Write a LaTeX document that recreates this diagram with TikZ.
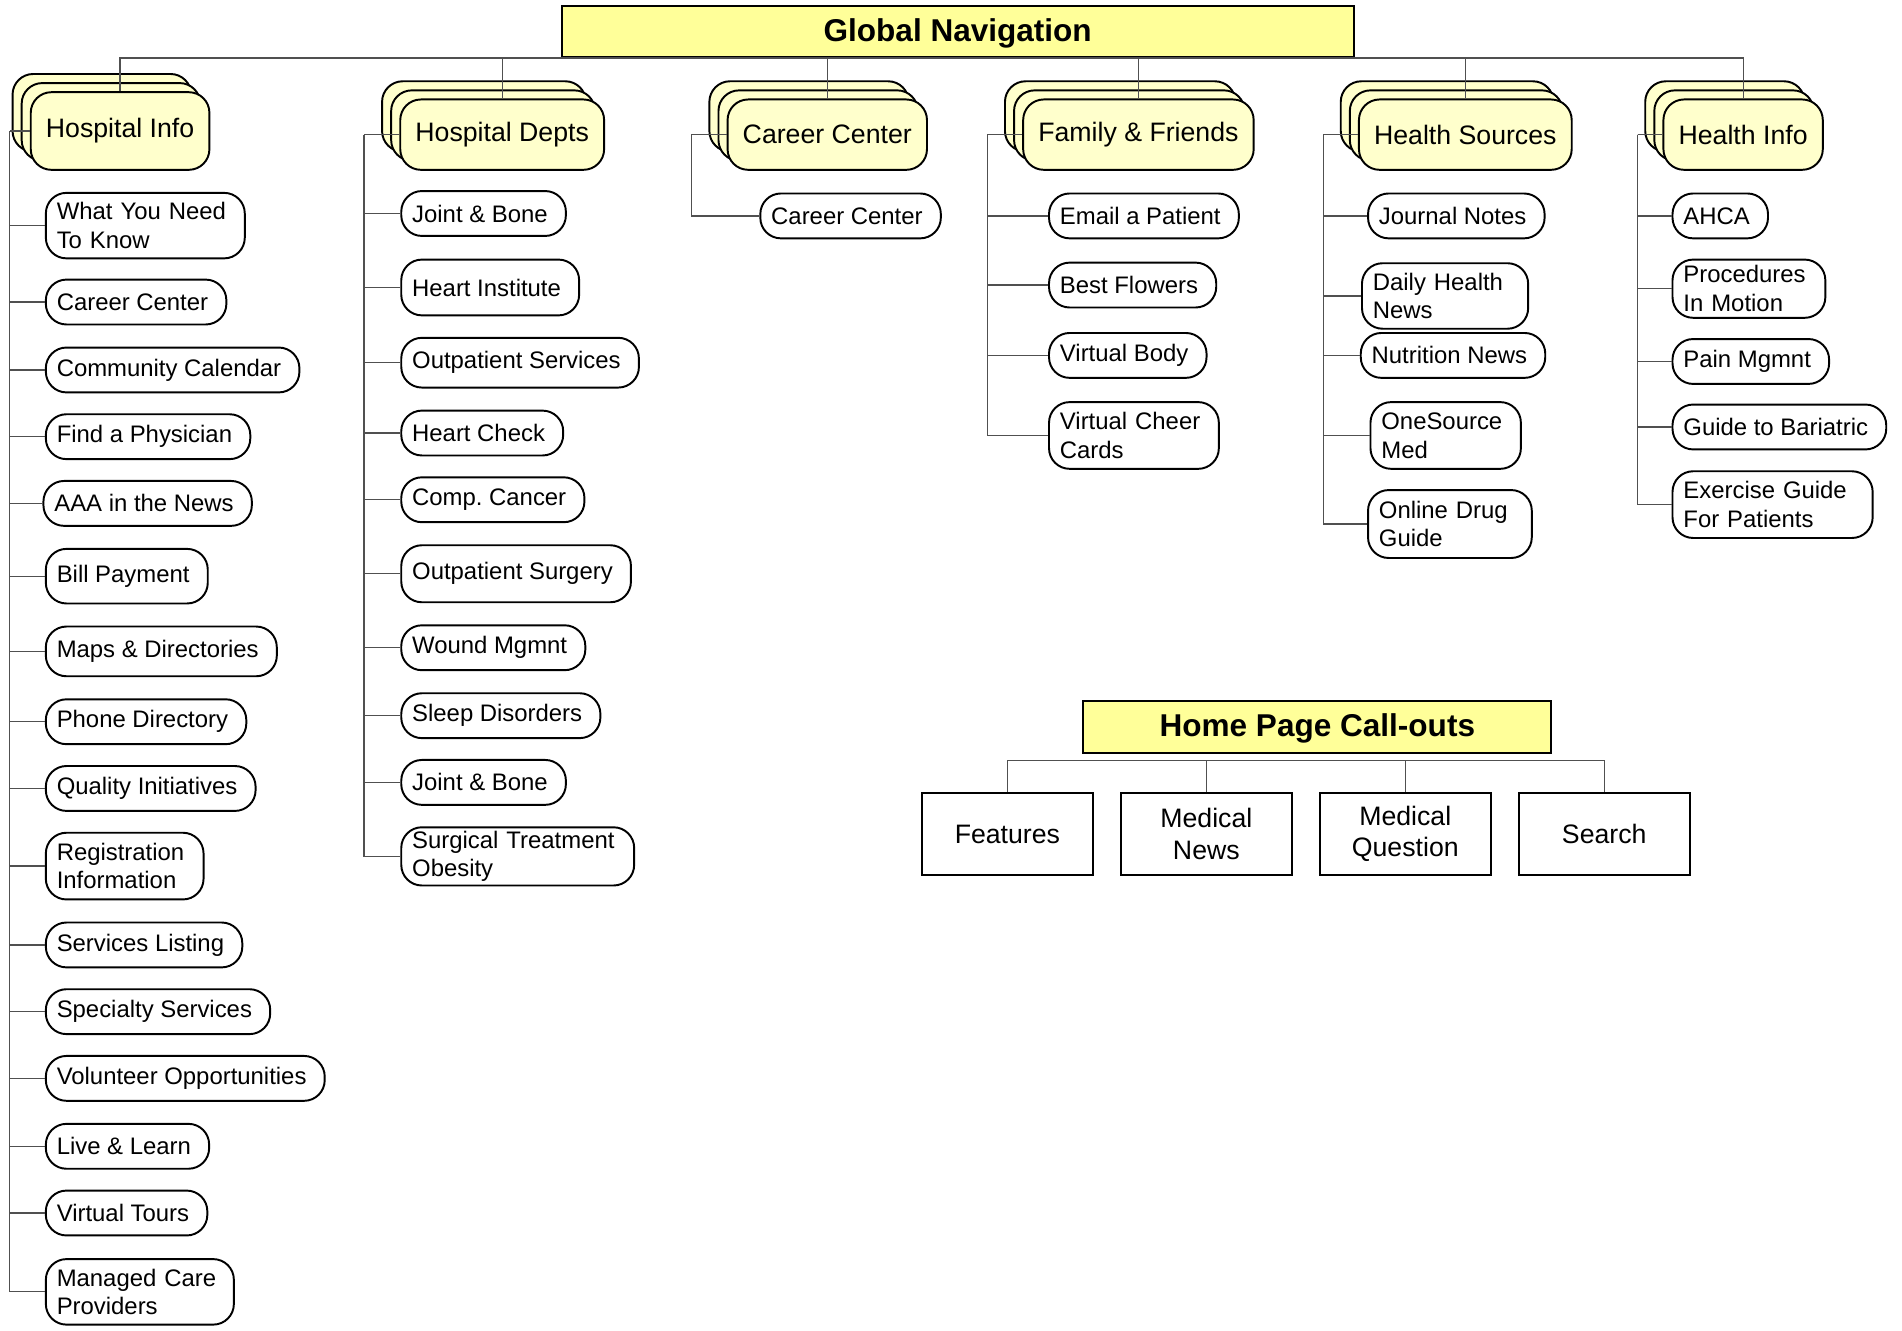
\documentclass[tikz,border=0pt]{standalone}
\usepackage{fontspec}
\setmainfont{Liberation Sans}
\usetikzlibrary{shadows}
\definecolor{headyellow}{RGB}{255,255,153}
\definecolor{stackyellow}{RGB}{255,255,204}
\definecolor{linkgray}{RGB}{80,80,80}
\begin{document}
\begin{tikzpicture}[x=1pt,y=-1pt,
  head node/.style={rectangle,draw,line width=1.6pt,fill=headyellow,font=\fontsize{26}{31}\selectfont\bfseries,inner sep=0pt,text height=19pt,text depth=3pt},
  top node/.style={rectangle,rounded corners=17pt,draw,line width=1.6pt,fill=stackyellow,font=\fontsize{22}{26}\selectfont,inner xsep=12.5pt,minimum height=58pt,
    copy shadow={shadow xshift=-15pt,shadow yshift=15pt,fill=stackyellow},
    copy shadow={shadow xshift=-7.5pt,shadow yshift=7.5pt,fill=stackyellow}},
  leaf node/.style={rectangle,rounded corners=17pt,draw,line width=1.6pt,fill=white,anchor=west,align=left,font=\fontsize{19.7}{23.6}\selectfont,inner xsep=9pt,inner ysep=3pt,minimum height=37pt,execute at end node={\hspace*{6pt}}},
  call node/.style={rectangle,draw,line width=1.6pt,fill=white,align=center,font=\fontsize{22}{26}\selectfont,minimum width=141pt,minimum height=67pt,inner sep=0pt},
  link/.style={draw=linkgray,line width=1pt},
  elbow down/.style={to path={-| (\tikztotarget)}},
  elbow side/.style={to path={|- (\tikztotarget)}}]

  \useasboundingbox (0,0) rectangle (1568,1097);

  % global navigation
  \node[head node,minimum width=653pt,minimum height=42pt] (gn) at (789.5,26) {Global Navigation};

  \node[top node,minimum height=64pt] (hinfo) at (99,108) {Hospital Info};
  \node[top node] (hdepts) at (414,111) {Hospital Depts};
  \node[top node] (career) at (682,111) {Career Center};
  \node[top node] (family) at (938.5,111) {Family \& Friends};
  \node[top node] (hsources) at (1208,111) {Health Sources};
  \node[top node] (hhealth) at (1437,111) {Health Info};

  \coordinate (hinfoT) at (8,108);
  \coordinate (hdeptsT) at (300,111);
  \coordinate (careerT) at (570,111);
  \coordinate (familyT) at (814,111);
  \coordinate (hsourcesT) at (1091,111);
  \coordinate (hhealthT) at (1350,111);

  % hospital info
  \node[leaf node,minimum height=54pt,text width=146pt] (hi1) at (37,186) {What You Need\\To Know};
  \node[leaf node] (hi2) at (37,249) {Career Center};
  \node[leaf node] (hi3) at (37,305) {Community Calendar};
  \node[leaf node] (hi4) at (37,360) {Find a Physician};
  \node[leaf node] (hi5) at (35,415) {AAA in the News};
  \node[leaf node,minimum height=45pt] (hi6) at (37,475) {Bill Payment};
  \node[leaf node,minimum height=41pt] (hi7) at (37,537) {Maps \& Directories};
  \node[leaf node] (hi8) at (37,595) {Phone Directory};
  \node[leaf node] (hi9) at (37,650) {Quality Initiatives};
  \node[leaf node,minimum height=55pt,text width=112pt] (hi10) at (37,714) {Registration\\Information};
  \node[leaf node] (hi11) at (37,779) {Services Listing};
  \node[leaf node] (hi12) at (37,834) {Specialty Services};
  \node[leaf node] (hi13) at (37,889) {Volunteer Opportunities};
  \node[leaf node] (hi14) at (37,945) {Live \& Learn};
  \node[leaf node] (hi15) at (37,1000) {Virtual Tours};
  \node[leaf node,minimum height=54pt,text width=137pt] (hi16) at (37,1065) {Managed Care\\Providers};

  % hospital depts
  \node[leaf node] (hd1) at (330,176) {Joint \& Bone};
  \node[leaf node,minimum height=46pt] (hd2) at (330,237) {Heart Institute};
  \node[leaf node,minimum height=41pt] (hd3) at (330,299) {Outpatient Services};
  \node[leaf node] (hd4) at (330,357) {Heart Check};
  \node[leaf node] (hd5) at (330,412) {Comp.\ Cancer};
  \node[leaf node,minimum height=47pt] (hd6) at (330,473) {Outpatient Surgery};
  \node[leaf node] (hd7) at (330,534) {Wound Mgmnt};
  \node[leaf node] (hd8) at (330,590) {Sleep Disorders};
  \node[leaf node] (hd9) at (330,645) {Joint \& Bone};
  \node[leaf node,minimum height=48pt,text width=174pt] (hd10) at (330,706) {Surgical Treatment\\Obesity};

  % career center
  \node[leaf node] (cc1) at (626,178) {Career Center};

  % family and friends
  \node[leaf node] (ff1) at (864,178) {Email a Patient};
  \node[leaf node] (ff2) at (864,235) {Best Flowers};
  \node[leaf node] (ff3) at (864,293) {Virtual Body};
  \node[leaf node,minimum height=55pt,text width=122pt] (ff4) at (864,359) {Virtual Cheer\\Cards};

  % health sources
  \node[leaf node] (hs1) at (1127,178) {Journal Notes};
  \node[leaf node,minimum height=54pt,text width=119pt] (hs2) at (1122,244) {Daily Health\\News};
  \node[leaf node] (hs3) at (1121,293) {Nutrition News};
  \node[leaf node,minimum height=55pt,text width=106pt] (hs4) at (1129,359) {OneSource\\Med};
  \node[leaf node,minimum height=56pt,text width=117pt] (hs5) at (1127,432) {Online Drug\\Guide};

  % health info
  \node[leaf node] (hh1) at (1378,178) {AHCA};
  \node[leaf node,minimum height=48pt,text width=108pt] (hh2) at (1378,238) {Procedures\\In Motion};
  \node[leaf node] (hh3) at (1378,298) {Pain Mgmnt};
  \node[leaf node] (hh4) at (1378,352) {Guide to Bariatric};
  \node[leaf node,minimum height=55pt,text width=147pt] (hh5) at (1378,416) {Exercise Guide\\For Patients};

  % home page call-outs
  \node[head node,minimum width=386pt,minimum height=43pt] (hp) at (1086,599.5) {Home Page Call-outs};
  \coordinate (hpbar) at (1086,627);
  \node[call node] (features) at (830.5,687.5) {Features};
  \node[call node] (mednews) at (994.5,687.5) {Medical\\News};
  \node[call node] (medq) at (1158.5,687.5) {Medical\\Question};
  \node[call node] (search) at (1322.5,687.5) {Search};

  \path[link]
    (gn.south) edge[elbow down] (hinfo)
               edge[elbow down] (hdepts)
               edge[elbow down] (career)
               edge[elbow down] (family)
               edge[elbow down] (hsources)
               edge[elbow down] (hhealth)
    (hpbar) edge[elbow down] (features)
            edge[elbow down] (mednews)
            edge[elbow down] (medq)
            edge[elbow down] (search);

  \path[link]
    (hinfo.west) edge (hinfoT)
    (hinfoT) edge[elbow side] (hi1) edge[elbow side] (hi2) edge[elbow side] (hi3)
             edge[elbow side] (hi4) edge[elbow side] (hi5) edge[elbow side] (hi6)
             edge[elbow side] (hi7) edge[elbow side] (hi8) edge[elbow side] (hi9)
             edge[elbow side] (hi10) edge[elbow side] (hi11) edge[elbow side] (hi12)
             edge[elbow side] (hi13) edge[elbow side] (hi14) edge[elbow side] (hi15)
             edge[elbow side] (hi16)
    (hdepts.west) edge (hdeptsT)
    (hdeptsT) edge[elbow side] (hd1) edge[elbow side] (hd2) edge[elbow side] (hd3)
              edge[elbow side] (hd4) edge[elbow side] (hd5) edge[elbow side] (hd6)
              edge[elbow side] (hd7) edge[elbow side] (hd8) edge[elbow side] (hd9)
              edge[elbow side] (hd10)
    (career.west) edge (careerT)
    (careerT) edge[elbow side] (cc1)
    (family.west) edge (familyT)
    (familyT) edge[elbow side] (ff1) edge[elbow side] (ff2) edge[elbow side] (ff3)
              edge[elbow side] (ff4)
    (hsources.west) edge (hsourcesT)
    (hsourcesT) edge[elbow side] (hs1) edge[elbow side] (hs2) edge[elbow side] (hs3)
                edge[elbow side] (hs4) edge[elbow side] (hs5)
    (hhealth.west) edge (hhealthT)
    (hhealthT) edge[elbow side] (hh1) edge[elbow side] (hh2) edge[elbow side] (hh3)
               edge[elbow side] (hh4) edge[elbow side] (hh5);
\end{tikzpicture}
\end{document}
